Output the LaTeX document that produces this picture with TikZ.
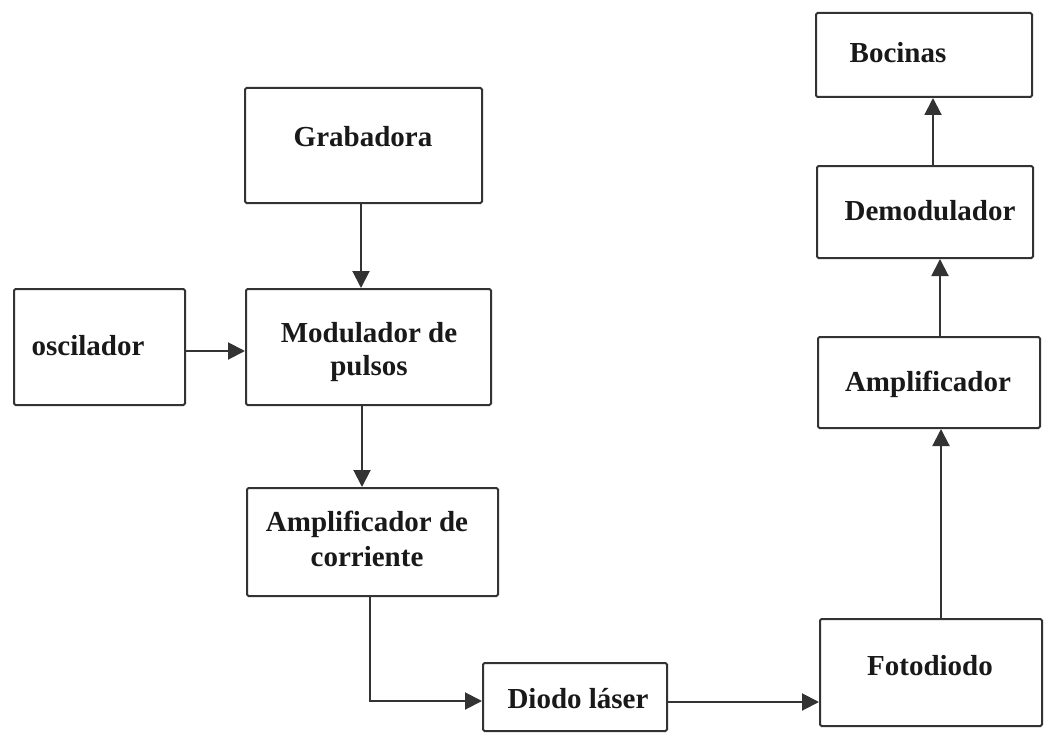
\documentclass[tikz,border=0pt]{standalone}
\usepackage{fontspec}
\setmainfont{Liberation Serif}
\usetikzlibrary{arrows.meta}
\begin{document}
\begin{tikzpicture}[x=1pt,y=-1pt,
  box/.style={draw=black!80,line width=2pt,rounded corners=1.5pt,inner sep=0pt},
  lbl/.style={font=\bfseries\fontsize{29}{36}\selectfont,inner sep=0pt,align=center,text=black!90},
  arr/.style={draw=black!80,line width=2pt,-{Triangle[length=17pt,width=17pt]}}]
\useasboundingbox (0,0) rectangle (1044,733);
% boxes
\node[box,minimum width=216pt,minimum height=84pt] (boc) at (924,55) {};
\node[box,minimum width=216pt,minimum height=92pt] (dem) at (925,212) {};
\node[box,minimum width=222pt,minimum height=91pt] (amp) at (929,382.5) {};
\node[box,minimum width=171pt,minimum height=116pt] (osc) at (99.5,347) {};
\node[box,minimum width=245pt,minimum height=116pt] (mod) at (368.5,347) {};
\node[box,minimum width=237pt,minimum height=115pt] (grab) at (363.5,145.5) {};
\node[box,minimum width=251pt,minimum height=108pt] (ampc) at (372.5,542) {};
\node[box,minimum width=184pt,minimum height=68pt] (dio) at (575,697) {};
\node[box,minimum width=222pt,minimum height=107pt] (foto) at (931,672.5) {};
% labels
\node[lbl] (tboc) at (898,53) {Bocinas};
\node[lbl] (tdem) at (930,211) {Demodulador};
\node[lbl] (tamp) at (928,384) {Amplificador};
\node[lbl] (tosc) at (88,346) {oscilador};
\node[lbl] (tmod1) at (369,333) {Modulador de};
\node[lbl] (tmod2) at (369,369) {pulsos};
\node[lbl] (tgrab) at (363,137) {Grabadora};
\node[lbl] (tampc1) at (367,524) {Amplificador de};
\node[lbl] (tampc2) at (367,557) {corriente};
\node[lbl] (tdio) at (578,699) {Diodo láser};
\node[lbl] (tfoto) at (930,666) {Fotodiodo};
% connectors
\coordinate (bend) at (370,701);
\draw[arr] (grab.south -| 361,0) -- (mod.north -| 361,0);
\draw[arr] (osc.east |- 0,351) -- (mod.west |- 0,351);
\draw[arr] (mod.south -| 362,0) -- (ampc.north -| 362,0);
\draw[arr] (ampc.south -| bend) -- (bend) -- (dio.west |- bend);
\draw[arr] (dio.east |- 0,702) -- (foto.west |- 0,702);
\draw[arr] (foto.north -| 941,0) -- (amp.south -| 941,0);
\draw[arr] (amp.north -| 940,0) -- (dem.south -| 940,0);
\draw[arr] (dem.north -| 933,0) -- (boc.south -| 933,0);
\end{tikzpicture}
\end{document}
